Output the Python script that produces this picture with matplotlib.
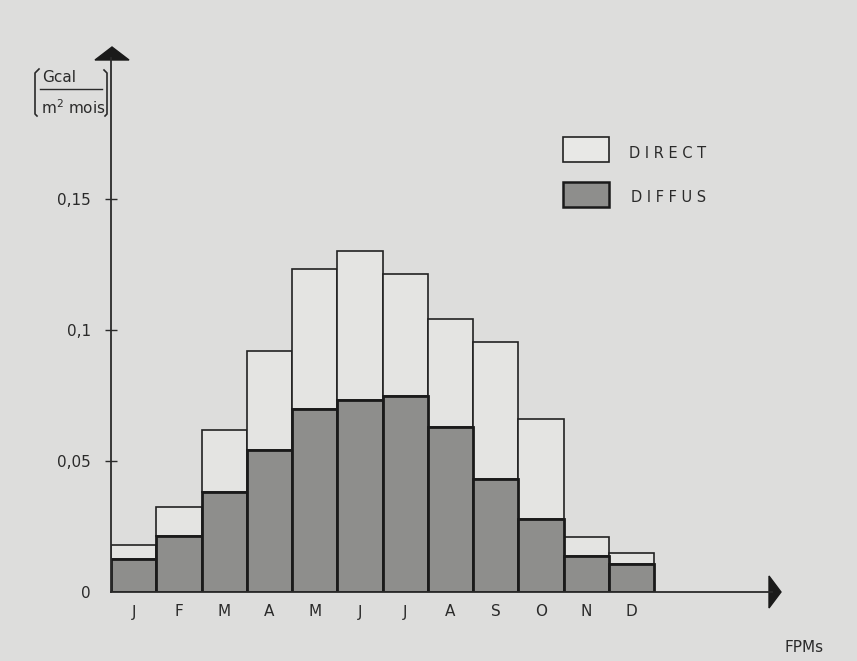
import matplotlib.pyplot as plt
from matplotlib.patches import Polygon, Rectangle
from matplotlib.lines import Line2D

# values (Gcal / m2 / month)
months = ["J", "F", "M", "A", "M", "J", "J", "A", "S", "O", "N", "D"]
diffus = [0.0126, 0.0215, 0.0380, 0.0541, 0.0697, 0.0733,
          0.0749, 0.0631, 0.0431, 0.0277, 0.0139, 0.0106]
direct = [0.0053, 0.0108, 0.0238, 0.0380, 0.0535, 0.0570,
          0.0465, 0.0411, 0.0522, 0.0383, 0.0072, 0.0042]
yticks = [0, 0.05, 0.1, 0.15]
ylabels = ["0", "0,05", "0,1", "0,15"]

W, H = 857, 661
bg = "#dddddc"
ink = "#2a2a2a"


def px(x, y):
    # pixel position -> figure fraction
    return (x / W, 1 - y / H)


def fline(pts, lw=1.0):
    xs = [p[0] / W for p in pts]
    ys = [1 - p[1] / H for p in pts]
    fig.add_artist(Line2D(xs, ys, transform=fig.transFigure, color=ink, lw=lw))


fig = plt.figure(figsize=(W / 100, H / 100), dpi=100, facecolor=bg)

# axes placed so that 0 sits at y=592px and one bar is ~45px wide
x0, y0, x1, y1 = 111, 592, 775, 50
ax = fig.add_axes([x0 / W, 1 - y0 / H, (x1 - x0) / W, (y0 - y1) / H])
ax.set_facecolor("none")
ax.set_xlim(0, (x1 - x0) / 45.25)
ax.set_ylim(0, (y0 - y1) / 2620)

pos = list(range(len(months)))
ax.bar(pos, diffus, width=1, align="edge", color="#8e8e8c",
       edgecolor="#1a1a1a", linewidth=2.0, zorder=3)
ax.bar(pos, direct, bottom=diffus, width=1, align="edge", color="#e4e4e2",
       edgecolor="#222222", linewidth=1.2, zorder=2)

for s in ax.spines.values():
    s.set_visible(False)

ax.set_yticks(yticks)
ax.set_yticklabels(ylabels)
ax.tick_params(axis="y", direction="inout", length=9, width=1,
               color=ink, labelcolor=ink, labelsize=11, pad=10)
ax.yaxis.get_major_ticks()[0].tick1line.set_visible(False)

ax.set_xticks([p + 0.5 for p in pos])
ax.set_xticklabels(months)
ax.tick_params(axis="x", length=0, labelcolor=ink, labelsize=11, pad=9)

# axis lines with arrow heads
fline([(x0, y0), (x0, 58)], lw=1.3)
fline([(x0, y0), (772, y0)], lw=1.3)
fig.add_artist(Polygon([px(95, 60), px(129, 60), px(112, 47)], closed=True,
                       transform=fig.transFigure, color="#1a1a1a"))
fig.add_artist(Polygon([px(769, 576), px(769, 608), px(781, 592)], closed=True,
                       transform=fig.transFigure, color="#1a1a1a"))

# unit label (Gcal / m2 mois) in brackets
fig.text(*px(42, 77), "Gcal", fontsize=11, color=ink, va="center")
fline([(40, 89), (102, 89)], lw=1)
fig.text(*px(41, 108), "m$^2$ mois", fontsize=11, color=ink, va="center")
fline([(39, 69), (35, 73), (35, 114), (37, 116)], lw=1.2)
fline([(104, 70), (107, 73), (107, 114), (105, 116)], lw=1.2)

fig.text(*px(785, 647), "FPMs", fontsize=11, color=ink, va="center")

# legend
fig.add_artist(Rectangle(px(563, 162), 46 / W, 25 / H, transform=fig.transFigure,
                         facecolor="#e8e8e6", edgecolor="#222222", lw=1.2))
fig.add_artist(Rectangle(px(563, 207), 46 / W, 25 / H, transform=fig.transFigure,
                         facecolor="#8e8e8c", edgecolor="#1a1a1a", lw=1.8))
fig.text(*px(629, 153), "D I R E C T", fontsize=10.5, color=ink, va="center")
fig.text(*px(631, 198), "D I F F U S", fontsize=10.5, color=ink, va="center")

fig.savefig("out.png", dpi=100, facecolor=bg)
